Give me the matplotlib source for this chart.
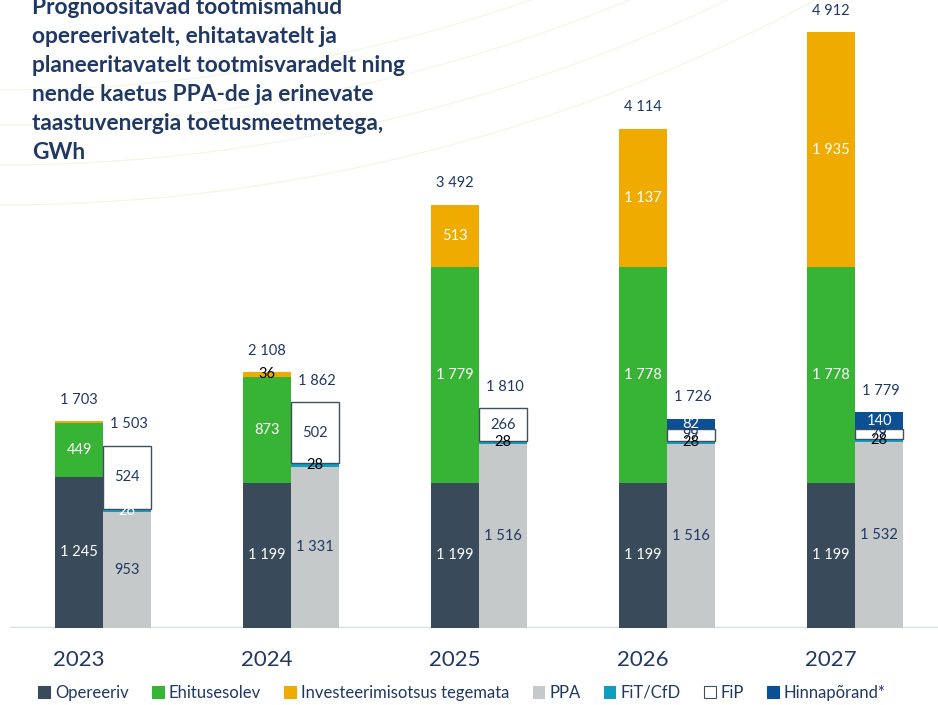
import matplotlib
matplotlib.use("Agg")
import matplotlib.pyplot as plt
from matplotlib.patches import Patch
import numpy as np

plt.rcParams['font.family'] = ['Lato', 'DejaVu Sans']

years = ['2023', '2024', '2025', '2026', '2027']

# production (left bar of each year), GWh
opereeriv = [1245, 1199, 1199, 1199, 1199]
ehitusesolev = [449, 873, 1779, 1778, 1778]
invest_tegemata = [9, 36, 513, 1137, 1935]
prod_total = [1703, 2108, 3492, 4114, 4912]

# coverage (right bar of each year), GWh
ppa = [953, 1331, 1516, 1516, 1532]
fit_cfd = [26, 28, 28, 28, 28]
fip = [524, 502, 266, 99, 79]
hinnaporand = [0, 0, 0, 82, 140]
cover_total = [1503, 1862, 1810, 1726, 1779]

NAVY = '#1F3864'
C_OPER = '#394B5A'
C_EHIT = '#37B335'
C_INV = '#F0AB00'
C_PPA = '#C5C9CA'
C_FIT = '#129CBE'
C_FIP = '#FFFFFF'
C_HINN = '#0B4F95'

fit_label_colors = ['white', 'black', 'black', 'black', 'black']


def fmt(v):
    return f"{v:,}".replace(",", " ")


fig = plt.figure(figsize=(9.38, 7.05), dpi=100)

# faint decorative swoosh lines in the background
bg = fig.add_axes([0, 0, 1, 1], zorder=-1)
bg.set_xlim(0, 938)
bg.set_ylim(705, 0)
bg.axis('off')
xs = np.linspace(0, 938, 400)
for r in [1610, 1645, 1685, 1725]:
    bg.plot(xs, -1520 + np.sqrt(r ** 2 - xs ** 2), color='#EFF7E6', lw=0.8)

ax = fig.add_axes([10 / 938, 77 / 705, 928 / 938, 628 / 705])
ax.patch.set_alpha(0)
ax.set_xlim(-0.495, -0.495 + 928 / 188)
ax.set_ylim(0, 628 / 0.1213)

x = np.arange(len(years))
w = 0.255
xl = x - w / 2
xr = x + w / 2


def stack(xpos, series, colors, label_colors, min_label=20, edge=None):
    bottom = np.zeros(len(xpos))
    for vals, col, lc in zip(series, colors, label_colors):
        vals = np.array(vals, dtype=float)
        ax.bar(xpos, vals, w, bottom=bottom, color=col, zorder=2,
               edgecolor=edge if col == C_FIP else col,
               linewidth=1.0 if col == C_FIP else 0)
        for i, v in enumerate(vals):
            if v >= min_label:
                c = lc[i] if isinstance(lc, list) else lc
                ax.text(xpos[i], bottom[i] + v / 2, fmt(int(v)), ha='center',
                        va='center', color=c, fontsize=10.5, zorder=3)
        bottom += vals
    return bottom


inv_colors = ['white' if v > 100 else 'black' for v in invest_tegemata]
stack(xl, [opereeriv, ehitusesolev, invest_tegemata],
      [C_OPER, C_EHIT, C_INV], ['white', 'white', inv_colors])
stack(xr, [ppa, fit_cfd, fip, hinnaporand],
      [C_PPA, C_FIT, C_FIP, C_HINN], [NAVY, fit_label_colors, NAVY, 'white'],
      edge='#3F4F5F')

for i in range(len(years)):
    top_l = opereeriv[i] + ehitusesolev[i] + invest_tegemata[i]
    top_r = ppa[i] + fit_cfd[i] + fip[i] + hinnaporand[i]
    ax.text(xl[i], top_l + 120, fmt(prod_total[i]), ha='center', va='bottom',
            color=NAVY, fontsize=10.5)
    ax.text(xr[i] + 0.01, top_r + 120, fmt(cover_total[i]), ha='center',
            va='bottom', color=NAVY, fontsize=10.5)

ax.axhline(0, color='#D6DEE8', lw=2.5, zorder=1)
ax.set_xticks(xl)
ax.set_xticklabels(years, fontsize=16, color=NAVY)
ax.tick_params(axis='x', length=0, pad=16)
ax.set_yticks([])
for s in ax.spines.values():
    s.set_visible(False)

fig.text(32 / 938, 1 + 3 / 705,
         "Prognoositavad tootmismahud\n"
         "opereerivatelt, ehitatavatelt ja\n"
         "planeeritavatelt tootmisvaradelt ning\n"
         "nende kaetus PPA-de ja erinevate\n"
         "taastuvenergia toetusmeetmetega,\n"
         "GWh",
         ha='left', va='top', fontsize=16.4, fontweight='bold', color=NAVY,
         linespacing=1.47)

labels = ['Opereeriv', 'Ehitusesolev', 'Investeerimisotsus tegemata', 'PPA',
          'FiT/CfD', 'FiP', 'Hinnapõrand*']
cols = [C_OPER, C_EHIT, C_INV, C_PPA, C_FIT, C_FIP, C_HINN]
handles = [Patch(facecolor=c, edgecolor='#3F4F5F' if c == C_FIP else c, lw=0.8)
           for c in cols]
leg = fig.legend(handles, labels, loc='center',
                 bbox_to_anchor=(462 / 938, 1 - 693 / 705), ncol=7,
                 frameon=False, handlelength=0.7, handleheight=0.7,
                 handletextpad=0.3, columnspacing=1.4, fontsize=12)
for t in leg.get_texts():
    t.set_color(NAVY)

fig.savefig('out.png', dpi=100)
